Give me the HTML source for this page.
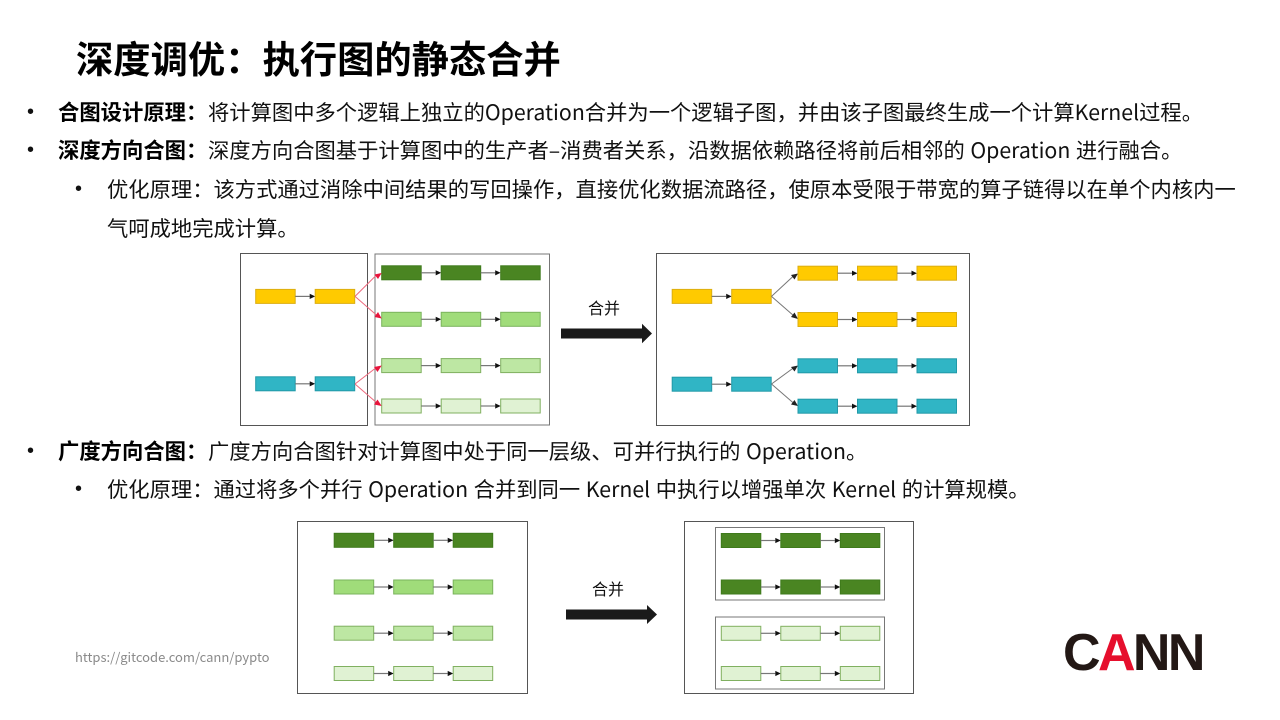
<!DOCTYPE html>
<html lang="zh"><head><meta charset="utf-8"><title>深度调优</title>
<style>
html,body{margin:0;padding:0;background:#fff}
#p{position:relative;width:1280px;height:720px;overflow:hidden;background:#fff;font-family:"Noto Sans CJK SC","Liberation Sans",sans-serif;color:#000}
.t{position:absolute;white-space:nowrap;font-size:21.3px;line-height:28px;color:#111;word-spacing:.8px}
.t b{font-weight:700;color:#000;font-size:21.33px}
.d{font-family:"Liberation Sans",sans-serif;font-size:20px}
svg{position:absolute;left:0;top:0}
</style></head><body><div id="p">
<svg width="1280" height="720" viewBox="0 0 1280 720">
<defs>
<g id="a"><path d="M0 0H14.5" stroke="#777" stroke-width="1.2" fill="none"/><path d="M14.5-2.6L20 0L14.5 2.6Z" fill="#111" stroke="none"/></g>
<g id="c2"><rect x="0" y="0" width="39.5" height="14"/><use href="#a" x="39.5" y="7"/><rect x="59.5" y="0" width="39.5" height="14"/></g>
<g id="c3"><use href="#c2"/><use href="#a" x="99" y="7"/><rect x="119" y="0" width="39.5" height="14"/></g>
</defs>
<g fill="#fff" stroke="#555" stroke-width="1">
<rect x="240.5" y="253.5" width="127" height="172"/>
<rect x="375" y="254" width="174.5" height="171" stroke="#777"/>
<rect x="656.5" y="253.5" width="313" height="172"/>
<rect x="297.5" y="521.5" width="230" height="172"/>
<rect x="684.5" y="521.5" width="229" height="172"/>
<rect x="715.5" y="527.5" width="169" height="72.5" stroke="#777"/>
<rect x="715.5" y="617" width="169" height="72" stroke="#777"/>
</g>
<!-- diagram 1 -->
<g fill="#ffca00" stroke="#dcae10"><use href="#c2" x="255.7" y="289.4"/><use href="#c2" x="672.2" y="289.4"/></g>
<g fill="#30b5c5" stroke="#2199a8"><use href="#c2" x="255.7" y="376.8"/><use href="#c2" x="672.2" y="377.2"/></g>
<g fill="#4a8522" stroke="#3f7a1c"><use href="#c3" x="381.7" y="265.8"/></g>
<g fill="#a0dc7a" stroke="#7ab35c"><use href="#c3" x="381.7" y="312.3"/></g>
<g fill="#bde7a3" stroke="#80b060"><use href="#c3" x="381.7" y="358.6"/></g>
<g fill="#e0f2d3" stroke="#80b060"><use href="#c3" x="381.7" y="399"/></g>
<g stroke="#ee6a7e" fill="none"><path d="M355 296.4L377 274.5M355 296.4L377 315.5M355 384L377 367M355 384L377 403"/></g>
<g fill="#e8143c"><path d="M381.7 273L374.5 274.5L378 279ZM381.7 318.5L374.5 317L378 312ZM381.7 365.5L374 367L377.5 372ZM381.7 406L374 404.5L377.5 399.5Z"/></g>
<!-- diagram 2 -->
<g stroke="#777" fill="none"><path d="M771.5 296.4L794 275.5M771.5 296.4L794 316M771.5 384L794 367.5M771.5 384L794 403.5"/></g>
<g fill="#222"><path d="M798 273.5L791 275L794.5 279.5ZM798 319L791 317L794.5 312.5ZM798 365.5L791 367L794.5 371.5ZM798 406L791 404.5L794.5 400Z"/></g>
<g fill="#ffca00" stroke="#dcae10"><use href="#c3" x="798" y="266.2"/><use href="#c3" x="798" y="312.5"/></g>
<g fill="#30b5c5" stroke="#2199a8"><use href="#c3" x="798" y="358.8"/><use href="#c3" x="798" y="399.2"/></g>
<path d="M561 328.5H642V323.8L652 333.5L642 343.2V338.5H561Z" fill="#1a1a1a"/>
<!-- diagram 3 -->
<g fill="#4a8522" stroke="#3f7a1c"><use href="#c3" x="334.2" y="533.3"/></g>
<g fill="#a0dc7a" stroke="#7ab35c"><use href="#c3" x="334.2" y="580"/></g>
<g fill="#bde7a3" stroke="#80b060"><use href="#c3" x="334.2" y="626.2"/></g>
<g fill="#e0f2d3" stroke="#80b060"><use href="#c3" x="334.2" y="666.5"/></g>
<path d="M566 609.5H647V605L657 614.5L647 624V619.5H566Z" fill="#1a1a1a"/>
<g fill="#4a8522" stroke="#3f7a1c"><use href="#c3" x="721.3" y="533.5"/><use href="#c3" x="721.3" y="580"/></g>
<g fill="#e0f2d3" stroke="#80b060"><use href="#c3" x="721.3" y="626.3"/><use href="#c3" x="721.3" y="666.5"/></g>
</svg>

<div class="t" style="left:76px;top:31px;font-size:37.3px;line-height:52px;font-weight:700;color:#000">深度调优：执行图的静态合并</div>

<div class="t d" style="left:27px;top:98px">•</div>
<div class="t" style="left:58px;top:98px"><b>合图设计原理：</b></div>
<div class="t" style="left:208px;top:98px">将计算图中多个逻辑上独立的Operation合并为一个逻辑子图，并由该子图最终生成一个计算Kernel过程。</div>

<div class="t d" style="left:27px;top:136px">•</div>
<div class="t" style="left:58px;top:136px"><b>深度方向合图：</b></div>
<div class="t" style="left:208px;top:136px">深度方向合图基于计算图中的生产者–消费者关系，沿数据依赖路径将前后相邻的 Operation 进行融合。</div>

<div class="t d" style="left:75px;top:175px">•</div>
<div class="t" style="left:107px;top:175px">优化原理：该方式通过消除中间结果的写回操作，直接优化数据流路径，使原本受限于带宽的算子链得以在单个内核内一</div>
<div class="t" style="left:107px;top:214px">气呵成地完成计算。</div>

<div class="t d" style="left:27px;top:437px">•</div>
<div class="t" style="left:58px;top:437px"><b>广度方向合图：</b></div>
<div class="t" style="left:208px;top:437px">广度方向合图针对计算图中处于同一层级、可并行执行的 Operation。</div>

<div class="t d" style="left:75px;top:475px">•</div>
<div class="t" style="left:107px;top:475px">优化原理：通过将多个并行 Operation 合并到同一 Kernel 中执行以增强单次 Kernel 的计算规模。</div>

<div class="t" style="left:588px;top:293px;font-size:16px;line-height:28px">合并</div>
<div class="t" style="left:592px;top:574px;font-size:16px;line-height:28px">合并</div>

<div class="t" style="left:75px;top:647px;font-size:13px;line-height:20px;color:#8a8a8a">https://gitcode.com/cann/pypto</div>

<div class="t" style="left:1063px;top:623px;font-size:52px;line-height:60px;font-weight:700;color:#231815;letter-spacing:-2.6px;font-family:'Liberation Sans',sans-serif">C<span style="color:#e60f2d">A</span>NN</div>
</div></body></html>
